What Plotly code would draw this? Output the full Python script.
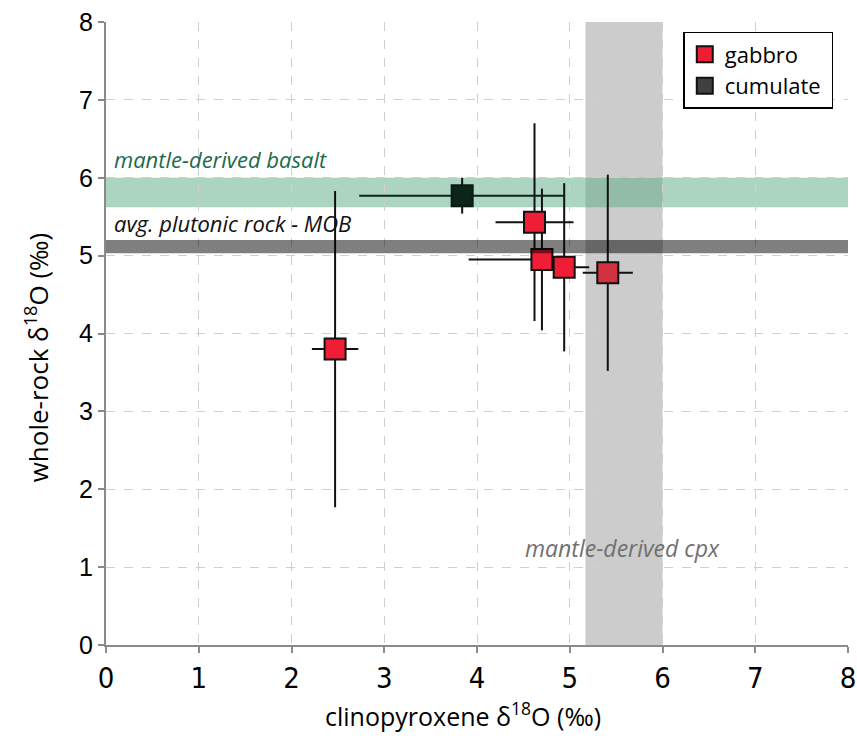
import plotly.graph_objects as go

# Gabbro samples: clinopyroxene vs whole-rock oxygen isotopes (per mil)
gabbro_cpx = [2.47, 4.62, 4.70, 4.94, 5.41]
gabbro_wr = [3.80, 5.43, 4.95, 4.85, 4.78]
gabbro_cpx_err_plus = [0.25, 0.42, 0.30, 0.27, 0.27]
gabbro_cpx_err_minus = [0.25, 0.42, 0.79, 0.27, 0.27]
gabbro_wr_err = [2.03, 1.27, 0.91, 1.08, 1.26]

# Cumulate sample
cumulate_cpx = [3.84]
cumulate_wr = [5.77]
cumulate_cpx_err = [1.11]
cumulate_wr_err = [0.23]

# Reference ranges
basalt_range = [5.62, 6.0]      # mantle-derived basalt (whole rock)
mob_range = [5.03, 5.2]         # average plutonic rock - MOB
cpx_range = [5.17, 6.0]         # mantle-derived cpx

ticks = [0, 1, 2, 3, 4, 5, 6, 7, 8]

RED = "#ef1d35"
# marker inside the grey cpx band appears muted
gabbro_colors = [RED, RED, RED, RED, "#d2323f"]

NARROW = "Liberation Sans Narrow, Arial Narrow, DejaVu Sans Condensed, Liberation Sans, sans-serif"

fig = go.Figure()

fig.add_trace(go.Scatter(
    x=gabbro_cpx, y=gabbro_wr, mode="markers", name="gabbro",
    marker=dict(symbol="square", size=21, color=gabbro_colors,
                line=dict(color="#111111", width=2)),
    error_x=dict(type="data", symmetric=False, array=gabbro_cpx_err_plus,
                 arrayminus=gabbro_cpx_err_minus, color="#111111",
                 thickness=2, width=0),
    error_y=dict(type="data", array=gabbro_wr_err, color="#111111",
                 thickness=2, width=0),
    showlegend=False,
))

fig.add_trace(go.Scatter(
    x=cumulate_cpx, y=cumulate_wr, mode="markers", name="cumulate",
    marker=dict(symbol="square", size=21, color="#0b2619",
                line=dict(color="#0b1a12", width=2)),
    error_x=dict(type="data", array=cumulate_cpx_err, color="#0e2218",
                 thickness=2, width=0),
    error_y=dict(type="data", array=cumulate_wr_err, color="#111111",
                 thickness=2, width=0),
    showlegend=False,
))

# legend entries
fig.add_trace(go.Scatter(
    x=[None], y=[None], mode="markers", name="gabbro\u00a0",
    marker=dict(symbol="square", size=19, color=RED,
                line=dict(color="#111111", width=2)),
))
fig.add_trace(go.Scatter(
    x=[None], y=[None], mode="markers", name="cumulate\u00a0",
    marker=dict(symbol="square", size=19, color="#404040",
                line=dict(color="#111111", width=2)),
))

shapes = [
    dict(type="rect", xref="x", yref="paper", x0=cpx_range[0], x1=cpx_range[1],
         y0=0, y1=1, fillcolor="#cccccc", line=dict(width=0), layer="below"),
    dict(type="rect", xref="paper", yref="y", x0=0, x1=1,
         y0=basalt_range[0], y1=basalt_range[1], fillcolor="rgb(89,171,131)",
         opacity=0.5, line=dict(width=0), layer="below"),
    dict(type="rect", xref="paper", yref="y", x0=0, x1=1,
         y0=mob_range[0], y1=mob_range[1], fillcolor="black",
         opacity=0.5, line=dict(width=0), layer="above"),
]

annotations = [
    dict(x=0.06, y=basalt_range[1] + 0.02, xref="x", yref="y",
         text="<i>mantle-derived basalt</i>", showarrow=False,
         xanchor="left", yanchor="bottom",
         font=dict(family="Open Sans", size=22, color="#1d6a4a")),
    dict(x=0.06, y=mob_range[1] + 0.0, xref="x", yref="y",
         text="<i>avg. plutonic rock - MOB</i>", showarrow=False,
         xanchor="left", yanchor="bottom",
         font=dict(family="Open Sans", size=22, color="#111111")),
    dict(x=5.57, y=1.25, xref="x", yref="y",
         text="<i>mantle-derived cpx</i>", showarrow=False,
         xanchor="center", yanchor="middle",
         font=dict(family="Open Sans", size=23, color="#707070")),
    # axis titles
    dict(x=0.481, y=-0.112, xref="paper", yref="paper",
         text="clinopyroxene δ<sup>18</sup>O (‰)", showarrow=False,
         xanchor="center", yanchor="middle",
         font=dict(family="Open Sans", size=25, color="black")),
    dict(x=-0.0936, y=0.461, xref="paper", yref="paper", textangle=-90,
         text="whole-rock δ<sup>18</sup>O (‰)", showarrow=False,
         xanchor="center", yanchor="middle",
         font=dict(family="Open Sans", size=26, color="black")),
]

axis_common = dict(
    range=[0, 8], tickvals=ticks, showgrid=True, gridcolor="#cfcfcf",
    griddash="dash", gridwidth=1, zeroline=False, showline=True,
    linecolor="#8a8a8a", linewidth=2, ticks="outside", ticklen=6,
    tickcolor="#8a8a8a", tickwidth=1.5, automargin=False,
)

fig.update_layout(
    width=857, height=741,
    margin=dict(l=106, r=9, t=22, b=96),
    plot_bgcolor="white", paper_bgcolor="white",
    shapes=shapes, annotations=annotations,
    xaxis=dict(**axis_common,
               tickfont=dict(family=NARROW, size=29, color="black")),
    yaxis=dict(**axis_common,
               tickfont=dict(family="Liberation Sans", size=25, color="black")),
    legend=dict(x=0.778, y=0.984, xanchor="left", yanchor="top",
                bgcolor="white", bordercolor="black", borderwidth=1.5,
                font=dict(family="Open Sans", size=22, color="black"),
                itemwidth=30, tracegroupgap=0),
)

fig.write_html("out.html")
